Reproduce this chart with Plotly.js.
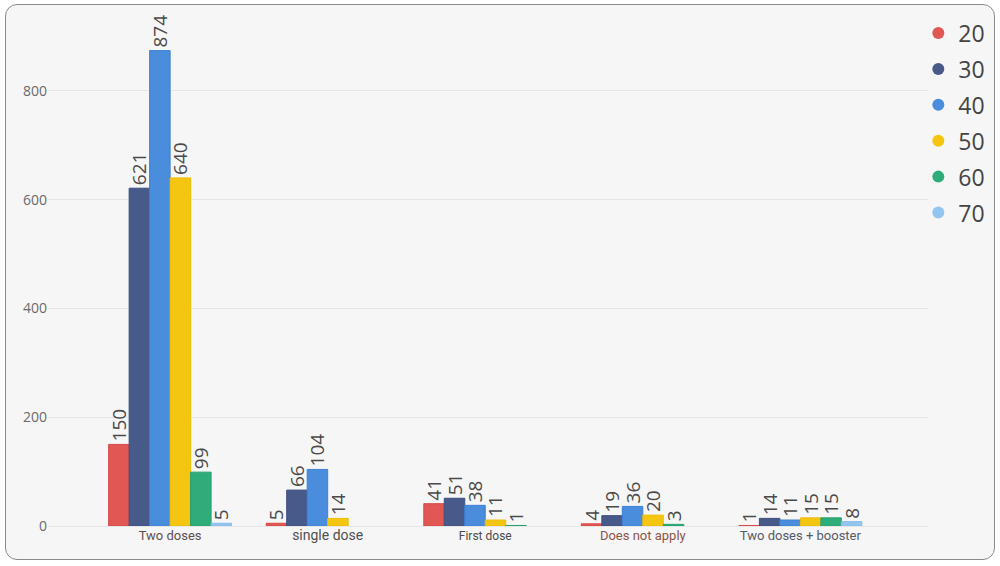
<!DOCTYPE html>
<html>
<head>
<meta charset="utf-8">
<script src="https://cdn.plot.ly/plotly-3.0.1.min.js"></script>
<style>
  html, body { margin: 0; padding: 0; background: #ffffff; }
  #frame {
    position: absolute; left: 5px; top: 4px; width: 988px; height: 554px;
    border: 1.3px solid #8a8a8a; border-radius: 12px; background: #f6f6f6;
  }
  #chart { position: absolute; left: 0; top: 0; width: 1000px; height: 566px; }
</style>
</head>
<body>
<div id="frame"></div>
<div id="chart"></div>
<script>
const categories = ["Two doses", "single dose", "First dose", "Does not apply", "Two doses + booster"];
const seriesNames = ["20", "30", "40", "50", "60", "70"];
const v20 = [150, 5, 41, 4, 1];
const v30 = [621, 66, 51, 19, 14];
const v40 = [874, 104, 38, 36, 11];
const v50 = [640, 14, 11, 20, 15];
const v60 = [99, null, 1, 3, 15];
const v70 = [5, null, null, null, 8];
const tickLabels = [
  '<span style="color:#5e4e4e">Two doses</span>',
  '<span style="color:#505050;font-size:14px">single dose</span>',
  '<span style="color:#4a4a4a;font-size:12px">First dose</span>',
  '<span style="color:#8a5545">Does not apply</span>',
  '<span style="color:#555a66">Two doses + booster</span>'
];

const allValues = [v20, v30, v40, v50, v60, v70];
const colors = ["#e05753", "#485a8a", "#4a8ddc", "#f4c612", "#2ead7a", "#92c5f0"];
const lineColors = ["#d84a47", "#3e4f7e", "#3b80d6", "#f0bc05", "#25a06e", "#86bcec"];

const catIdx = categories.map((c, i) => i);
const traces = [];
allValues.forEach((vals, k) => {
  traces.push({
    type: "bar",
    x: catIdx,
    y: vals,
    name: seriesNames[k],
    showlegend: false,
    marker: { color: colors[k], line: { color: lineColors[k], width: 1 } },
    text: vals.map(v => (v === null ? "" : String(v))),
    textposition: "outside",
    textangle: -90,
    constraintext: "none",
    cliponaxis: false,
    textfont: { family: "Open Sans, sans-serif", size: 19, color: "#4a4a4a" },
    hoverinfo: "x+y"
  });
});
seriesNames.forEach((n, k) => {
  traces.push({
    type: "scatter",
    mode: "markers",
    x: [null], y: [null],
    name: n,
    legendgroup: "g" + k,
    marker: { color: colors[k], size: 15, symbol: "circle" },
    showlegend: true
  });
});

const layout = {
  width: 1000, height: 566,
  margin: { l: 48, r: 72, t: 37, b: 40, autoexpand: false },
  paper_bgcolor: "rgba(0,0,0,0)",
  plot_bgcolor: "rgba(0,0,0,0)",
  barmode: "group",
  bargap: 0.22,
  bargroupgap: 0,
  xaxis: {
    range: [-0.775, 4.81],
    tickmode: "array",
    tickvals: catIdx,
    ticktext: tickLabels,
    showgrid: false,
    zeroline: false,
    showline: false,
    ticks: "",
    tickfont: { family: "Roboto, sans-serif", size: 13, color: "#555555" }
  },
  yaxis: {
    range: [0, 899],
    tickvals: [0, 200, 400, 600, 800],
    showgrid: true,
    gridcolor: "#e6e6e6",
    gridwidth: 1,
    zeroline: true,
    zerolinecolor: "#e6e6e6",
    showline: false,
    ticks: "",
    ticklen: 0,
    tickfont: { family: "Open Sans, sans-serif", size: 14, color: "#6a6a6a" }
  },
  showlegend: true,
  legend: {
    x: 0.989, xanchor: "left",
    y: 1.052, yanchor: "top",
    bgcolor: "rgba(0,0,0,0)",
    font: { family: "Open Sans, sans-serif", size: 23, color: "#444444" },
    tracegroupgap: 3,
    itemsizing: "constant"
  }
};

Plotly.newPlot("chart", traces, layout, { displayModeBar: false, responsive: false });
</script>
</body>
</html>
